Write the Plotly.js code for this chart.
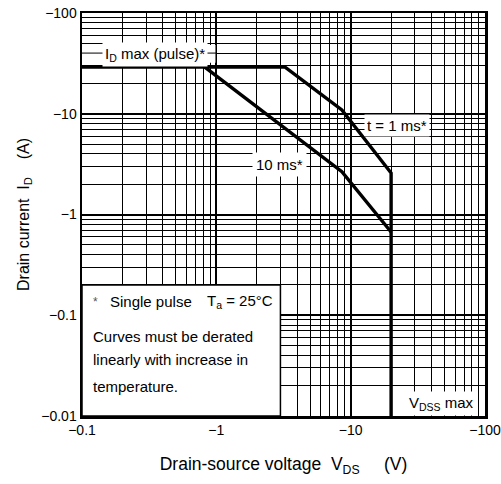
<!DOCTYPE html>
<html>
<head>
<meta charset="utf-8">
<script src="https://cdn.plot.ly/plotly-3.0.1.min.js"></script>
<style>html,body{margin:0;padding:0;background:#fff;}#chart{width:501px;height:484px;}</style>
</head>
<body>
<div id="chart"></div>
<script>
// ---- data (magnitudes; axes are labelled negative) ----
var vds1ms  = [0.1, 3.25, 8.6, 20, 20];
var id1ms   = [29, 29, 10.9, 2.58, 0.01];
var vds10ms = [0.82, 8.6, 20];
var id10ms  = [29, 2.66, 0.67];
var xTickVals = [0.1, 1, 10, 100];
var xTickText = ['\u22120.1', '\u22121', '\u221210', '\u2212100'];
var yTickVals = [0.01, 0.1, 1, 10, 100];
var yTickText = ['\u22120.01', '\u22120.1', '\u22121', '\u221210', '\u2212100'];
var xDecades = [0.1, 1, 10];
var yDecades = [0.01, 0.1, 1, 10];

function minorVals(decs){
  var out = [];
  decs.forEach(function(d){ for (var k = 2; k <= 9; k++) out.push(+(k*d).toPrecision(3)); });
  return out;
}

var FONT = 'Liberation Sans, Arial, Helvetica, sans-serif';
var line = {color:'#000', width:3.4};

var traces = [
  {x: vds1ms, y: id1ms, mode:'lines', line: line, hoverinfo:'skip', showlegend:false},
  {x: vds10ms, y: id10ms, mode:'lines', line: line, hoverinfo:'skip', showlegend:false}
];

function axis(vals, text, decs, rng){
  return {
    type:'log', range: rng, tickmode:'array', tickvals: vals, ticktext: text,
    showgrid:true, gridcolor:'#000', gridwidth:2,
    minor:{tickmode:'array', tickvals: minorVals(decs), showgrid:true, gridcolor:'#000', gridwidth:1, ticks:''},
    showline:true, linecolor:'#000', linewidth:2.5, mirror:true, ticks:'',
    zeroline:false, tickfont:{family:FONT, size:14, color:'#000'}, fixedrange:true
  };
}

var xa = axis(xTickVals, xTickText, xDecades, [-1, 2]);
xa.title = {text:'Drain-source voltage\u00a0\u00a0V<sub>DS</sub>\u00a0\u00a0\u00a0\u00a0\u00a0(V)', font:{family:FONT, size:17.5, color:'#000'}, standoff:21};
var ya = axis(yTickVals, yTickText, yDecades, [-2, 2]);
ya.title = {text:'Drain current\u00a0\u00a0I<sub>D</sub>\u00a0\u00a0\u00a0\u00a0(A)', font:{family:FONT, size:16, color:'#000'}, standoff:8};

function ann(text, x, y, xanchor, extra){
  var a = {text:text, xref:'paper', yref:'paper', x:x, y:y, xanchor:xanchor, yanchor:'middle',
    showarrow:false, font:{family:FONT, size:15, color:'#000'}};
  for (var k in extra) a[k] = extra[k];
  return a;
}
var bg = {bgcolor:'#fff', borderpad:2};

var layout = {
  width:501, height:484,
  margin:{l:82, r:16, t:13, b:68},
  paper_bgcolor:'#fff', plot_bgcolor:'#fff',
  xaxis: xa, yaxis: ya,
  shapes:[
    {type:'rect', xref:'x', yref:'y', x0:0.1, x1:0.985, y0:32, y1:48, fillcolor:'#fff', line:{width:0}, layer:'between'},
    {type:'line', xref:'x', yref:'y', x0:0.1, x1:1, y0:40, y1:40, line:{color:'#000', width:1}, layer:'between'},
    {type:'rect', xref:'x', yref:'y', x0:0.1, x1:3, y0:0.01, y1:0.2, fillcolor:'#fff', line:{color:'#000', width:1.5}, layer:'between'}
  ],
  annotations:[
    ann('I<sub>D</sub> max (pulse)*', 0.181, 0.898, 'center', bg),
    ann('t = 1 ms*', 0.782, 0.722, 'center', bg),
    ann('10 ms*', 0.489, 0.623, 'center', {bgcolor:'#fff', borderpad:3}),
    ann('V<sub>DSS</sub> max', 0.891, 0.031, 'center', bg),
    ann('*', 0.033, 0.283, 'center', {font:{family:FONT, size:12, color:'#555'}}),
    ann('Single pulse', 0.064, 0.283, 'left', {}),
    ann('T<sub>a</sub> = 25\u00b0C', 0.305, 0.283, 'left', {}),
    ann('Curves must be derated', 0.022, 0.1985, 'left', {}),
    ann('linearly with increase in', 0.022, 0.139, 'left', {}),
    ann('temperature.', 0.022, 0.0744, 'left', {})
  ]
};

Plotly.newPlot('chart', traces, layout, {staticPlot:true, displayModeBar:false});
</script>
</body>
</html>
